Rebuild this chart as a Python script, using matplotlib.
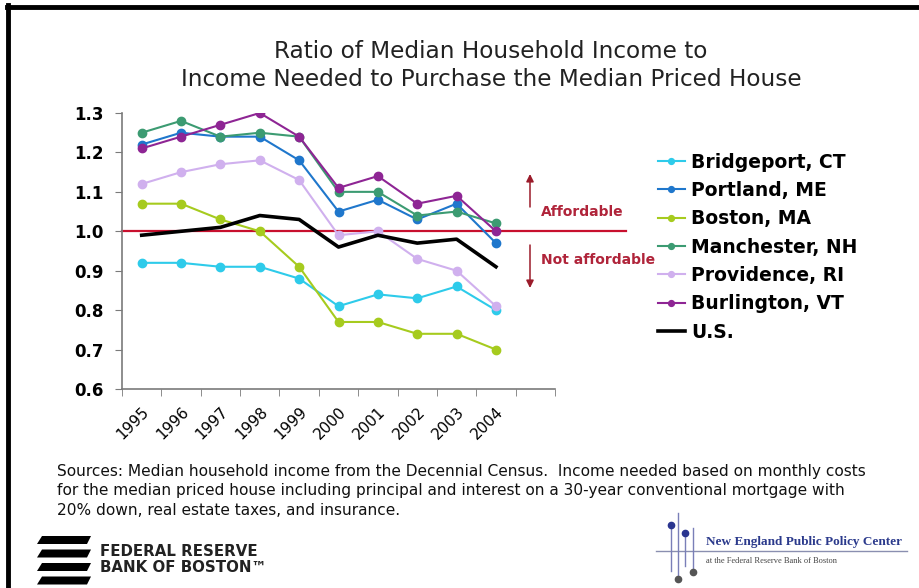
import matplotlib
matplotlib.use("Agg")
import matplotlib.pyplot as plt
from matplotlib.lines import Line2D
from matplotlib.patches import Polygon, FancyArrowPatch

years = ["1995", "1996", "1997", "1998", "1999", "2000", "2001", "2002", "2003", "2004"]
bridgeport = [0.92, 0.92, 0.91, 0.91, 0.88, 0.81, 0.84, 0.83, 0.86, 0.80]
portland = [1.22, 1.25, 1.24, 1.24, 1.18, 1.05, 1.08, 1.03, 1.07, 0.97]
boston = [1.07, 1.07, 1.03, 1.00, 0.91, 0.77, 0.77, 0.74, 0.74, 0.70]
manchester = [1.25, 1.28, 1.24, 1.25, 1.24, 1.10, 1.10, 1.04, 1.05, 1.02]
providence = [1.12, 1.15, 1.17, 1.18, 1.13, 0.99, 1.00, 0.93, 0.90, 0.81]
burlington = [1.21, 1.24, 1.27, 1.30, 1.24, 1.11, 1.14, 1.07, 1.09, 1.00]
us = [0.99, 1.00, 1.01, 1.04, 1.03, 0.96, 0.99, 0.97, 0.98, 0.91]
threshold = 1.0
yticks = [0.6, 0.7, 0.8, 0.9, 1.0, 1.1, 1.2, 1.3]

series = [
    ("Bridgeport, CT", bridgeport, "#2ECBEA"),
    ("Portland, ME", portland, "#1F77CC"),
    ("Boston, MA", boston, "#A6CB1E"),
    ("Manchester, NH", manchester, "#3C9B72"),
    ("Providence, RI", providence, "#D0B0EE"),
    ("Burlington, VT", burlington, "#8E2594"),
]

W, H = 920, 588
fig = plt.figure(figsize=(W / 100, H / 100), dpi=100)
fig.patch.set_facecolor("white")

# overlay in pixel coordinates for decorations
ov = fig.add_axes([0, 0, 1, 1])
ov.set_xlim(0, W)
ov.set_ylim(H, 0)
ov.axis("off")

# main axes
L, R, T, B = 122, 555, 113, 389
ax = fig.add_axes([L / W, 1 - B / H, (R - L) / W, (B - T) / H])
ax.set_facecolor("none")
n_slots = len(years) + 1
ax.set_xlim(-0.5, n_slots - 0.5)
ax.set_ylim(0.6, 1.3)

x = list(range(len(years)))
# threshold line
ax.plot([-0.5, n_slots + 1.3], [threshold, threshold], color="#C8102E", lw=1.6,
        clip_on=False, zorder=2)
for name, vals, col in series:
    ax.plot(x, vals, color=col, lw=1.5, marker="o", ms=6, mec=col, mfc=col,
            label=name, zorder=3)
ax.plot(x, us, color="black", lw=2.6, label="U.S.", zorder=4)

for s in ["top", "right"]:
    ax.spines[s].set_visible(False)
for s in ["left", "bottom"]:
    ax.spines[s].set_color("#7a7a7a")
    ax.spines[s].set_linewidth(1.2)

ax.set_yticks(yticks)
ax.set_yticklabels([f"{v:.1f}" for v in yticks], fontsize=12, fontweight="bold")
ax.tick_params(axis="y", direction="out", length=5, color="#7a7a7a", pad=8)
ax.set_xticks(x)
ax.set_xticklabels(years, rotation=45, ha="right", rotation_mode="anchor",
                   fontsize=11)
ax.tick_params(axis="x", which="major", length=0, pad=11)
ax.set_xticks([i - 0.5 for i in range(n_slots + 1)], minor=True)
ax.tick_params(axis="x", which="minor", direction="out", length=5, color="#7a7a7a")

leg = fig.legend(loc="upper left", bbox_to_anchor=(650 / W, 1 - 145 / H),
                 frameon=False, prop={"weight": "bold", "size": 13.5},
                 handlelength=1.45, handletextpad=0.35, labelspacing=0.5,
                 borderaxespad=0, markerscale=0.7)

# title
ov.text(491, 52, "Ratio of Median Household Income to", ha="center", va="center",
        fontsize=16.7, color="#222222")
ov.text(491, 80, "Income Needed to Purchase the Median Priced House", ha="center",
        va="center", fontsize=16.7, color="#222222")

# affordability annotations
arrow_col = "#9B1B2A"
ov.add_patch(FancyArrowPatch((530, 207), (530, 174), arrowstyle="-|>",
                             mutation_scale=11, color=arrow_col, lw=1.1,
                             shrinkA=0, shrinkB=0))
ov.add_patch(FancyArrowPatch((530, 245), (530, 288), arrowstyle="-|>",
                             mutation_scale=11, color=arrow_col, lw=1.1,
                             shrinkA=0, shrinkB=0))
ov.text(541, 212, "Affordable", ha="left", va="center", fontsize=10,
        fontweight="bold", color="#B0243A")
ov.text(541, 260, "Not affordable", ha="left", va="center", fontsize=10,
        fontweight="bold", color="#B0243A")

# sources
src = ("Sources: Median household income from the Decennial Census.  Income needed based on monthly costs\n"
       "for the median priced house including principal and interest on a 30-year conventional mortgage with\n"
       "20% down, real estate taxes, and insurance.")
ov.text(57, 464, src, ha="left", va="top", fontsize=11.1, linespacing=1.37,
        color="#111111")

# border (top and left)
ov.add_line(Line2D([7, W], [6.5, 6.5], color="black", lw=3.5))
ov.add_line(Line2D([8.5, 8.5], [5, H], color="black", lw=3.5))

# Federal Reserve logo
for i in range(4):
    y0 = 536 + i * 13.5
    ov.add_patch(Polygon([[37, y0 + 8], [87, y0 + 8], [91, y0], [42, y0]],
                         closed=True, color="black", lw=0))
ov.text(100, 551, "FEDERAL RESERVE", ha="left", va="center", fontsize=10.8,
        fontweight="bold", color="#222222")
ov.text(100, 568, "BANK OF BOSTON\u2122", ha="left", va="center", fontsize=10.8,
        fontweight="bold", color="#222222")

# NEPPC logo
lc = "#7A7FB8"
ov.add_line(Line2D([656, 907], [551, 551], color="#8A8FB0", lw=1))
ov.add_line(Line2D([671, 671], [525, 571], color=lc, lw=1))
ov.add_line(Line2D([678, 678], [513, 578], color=lc, lw=1))
ov.add_line(Line2D([685, 685], [532, 566], color=lc, lw=1))
ov.add_line(Line2D([693, 693], [528, 572], color=lc, lw=1))
ov.plot([671, 685], [525, 533], "o", color="#2A3590", ms=4.5)
ov.plot([678, 693], [579, 572], "o", color="#555555", ms=4.5)
ov.text(706, 542, "New England Public Policy Center", ha="left", va="center",
        fontsize=9.5, fontweight="bold", family="Liberation Serif", color="#2B3A8C")
ov.text(706, 561, "at the Federal Reserve Bank of Boston", ha="left", va="center",
        fontsize=6, family="Liberation Serif", color="#444444")

fig.savefig("out.png", dpi=100, facecolor="white")
